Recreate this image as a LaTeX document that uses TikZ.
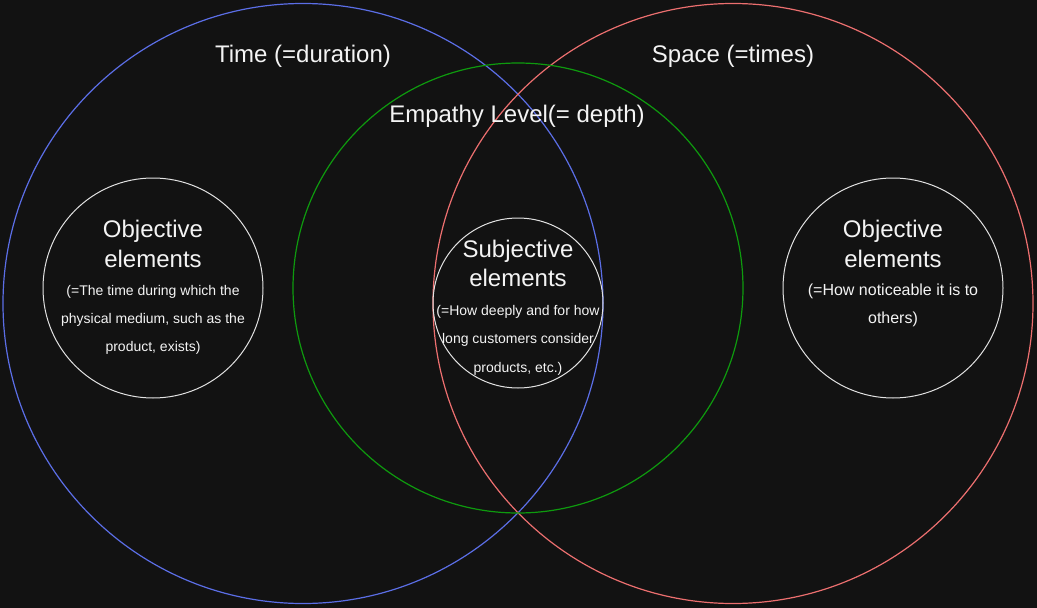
\documentclass[tikz,border=0pt]{standalone}
\usepackage{fontspec}
\setmainfont{Liberation Sans}
\definecolor{bg}{HTML}{121212}
\definecolor{cblue}{HTML}{5B6EE6}
\definecolor{cred}{HTML}{EC6F6F}
\definecolor{cgreen}{HTML}{0E9A0E}
\definecolor{cwhite}{HTML}{E2E2E2}
\definecolor{ctext}{HTML}{F4F4F4}
\tikzset{
  ring/.style={circle, draw=#1, line width=1.2pt, inner sep=0pt, outer sep=0pt},
  lbl/.style={text=ctext, anchor=base, inner sep=0pt, font=\fontsize{24}{28}\selectfont},
  sml/.style={text=ctext, anchor=base, inner sep=0pt, font=\fontsize{14}{16}\selectfont},
  smlb/.style={text=ctext, anchor=base, inner sep=0pt, font=\fontsize{16}{18}\selectfont}
}
\begin{document}
\begin{tikzpicture}[x=1pt,y=-1pt]
\fill[bg] (0,0) rectangle (1037,608);
\useasboundingbox (0,0) rectangle (1037,608);
% big circles
\node[ring=cblue, minimum size=600pt] (time) at (303,303.5) {};
\node[ring=cred, minimum size=600pt] (space) at (733,303.5) {};
\node[ring=cgreen, minimum size=450pt] (empathy) at (518,288) {};
% inner circles
\node[ring=cwhite, minimum size=220pt, line width=1pt] (objL) at (153,288) {};
\node[ring=cwhite, minimum size=220pt, line width=1pt] (objR) at (893,288) {};
\node[ring=cwhite, minimum size=170pt, line width=1pt] (subj) at (518,303) {};
% titles
\node[lbl] (tTime) at (303,62) {Time (=duration)};
\node[lbl] (tSpace) at (733,62) {Space (=times)};
\node[lbl] (tEmp) at (517,122) {Empathy Level(= depth)};
% left circle text
\node[lbl] (l1) at (153,237) {Objective};
\node[lbl] (l2) at (153,267) {elements};
\node[sml] (l3) at (153,295) {(=The time during which the};
\node[sml] (l4) at (153,323) {physical medium, such as the};
\node[sml] (l5) at (153,351) {product, exists)};
% right circle text
\node[lbl] (r1) at (893,237) {Objective};
\node[lbl] (r2) at (893,267) {elements};
\node[smlb] (r3) at (893,295) {(=How noticeable it is to};
\node[smlb] (r4) at (893,323) {others)};
% center circle text
\node[lbl] (c1) at (518,257) {Subjective};
\node[lbl] (c2) at (518,286) {elements};
\node[sml] (c3) at (518,315) {(=How deeply and for how};
\node[sml] (c4) at (518,343) {long customers consider};
\node[sml] (c5) at (518,372) {products, etc.)};
\end{tikzpicture}
\end{document}
